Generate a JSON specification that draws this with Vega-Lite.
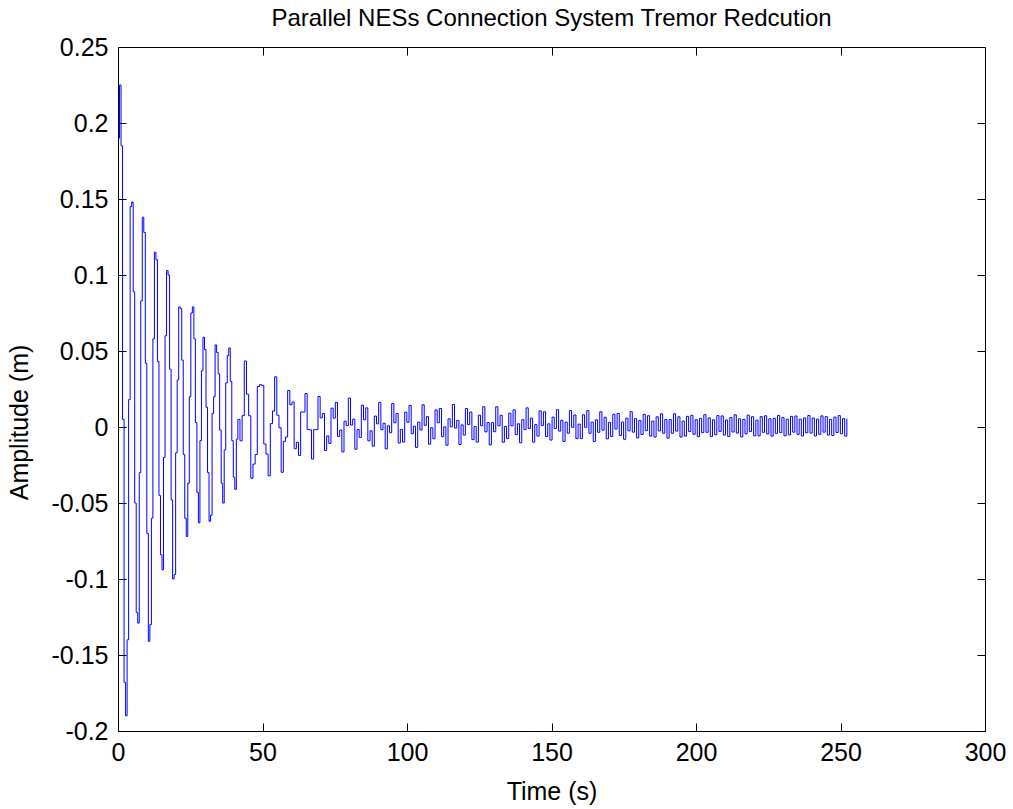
{
"$schema": "https://vega.github.io/schema/vega-lite/v6.json",
"width": 867, "height": 684,
"autosize": {"type": "none"},
"padding": {"left": 118, "top": 47, "right": 28, "bottom": 78},
"background": "white",
"title": {"text": "Parallel NESs Connection System Tremor Redcution", "font": "Liberation Sans", "fontSize": 24, "fontWeight": "normal", "color": "black", "offset": 4, "anchor": "middle"},
"data": {"values": [
{"t":0,"v":0.19},{"t":0.525,"v":0.225},{"t":1.05,"v":0.185},{"t":1.575,"v":0.005},{"t":2.1,"v":-0.168},{"t":2.625,"v":-0.19},{"t":3.15,"v":-0.14},{"t":3.675,"v":0.018},
{"t":4.2,"v":0.145},{"t":4.725,"v":0.148},{"t":5.25,"v":0.089},{"t":5.775,"v":-0.05},{"t":6.3,"v":-0.122},{"t":6.825,"v":-0.129},{"t":7.35,"v":-0.03},{"t":7.875,"v":0.083},
{"t":8.4,"v":0.138},{"t":8.925,"v":0.128},{"t":9.45,"v":0.042},{"t":9.975,"v":-0.07},{"t":10.5,"v":-0.141},{"t":11.025,"v":-0.13},{"t":11.55,"v":-0.06},{"t":12.075,"v":0.058},
{"t":12.6,"v":0.115},{"t":13.125,"v":0.11},{"t":13.65,"v":0.043},{"t":14.175,"v":-0.045},{"t":14.7,"v":-0.084},{"t":15.225,"v":-0.094},{"t":15.75,"v":-0.02},{"t":16.275,"v":0.06},
{"t":16.8,"v":0.103},{"t":17.325,"v":0.1},{"t":17.85,"v":0.038},{"t":18.375,"v":-0.048},{"t":18.9,"v":-0.1},{"t":19.425,"v":-0.097},{"t":19.95,"v":-0.017},{"t":20.475,"v":0.031},
{"t":21,"v":0.079},{"t":21.525,"v":0.078},{"t":22.05,"v":0.044},{"t":22.575,"v":-0.018},{"t":23.1,"v":-0.06},{"t":23.625,"v":-0.072},{"t":24.15,"v":-0.037},{"t":24.675,"v":0.02},
{"t":25.2,"v":0.075},{"t":25.725,"v":0.079},{"t":26.25,"v":0.058},{"t":26.775,"v":0.003},{"t":27.3,"v":-0.043},{"t":27.825,"v":-0.063},{"t":28.35,"v":-0.009},{"t":28.875,"v":0.037},
{"t":29.4,"v":0.059},{"t":29.925,"v":0.051},{"t":30.45,"v":0.013},{"t":30.975,"v":-0.03},{"t":31.5,"v":-0.062},{"t":32.025,"v":-0.058},{"t":32.55,"v":0.009},{"t":33.075,"v":0.02},
{"t":33.6,"v":0.054},{"t":34.125,"v":0.049},{"t":34.65,"v":0.035},{"t":35.175,"v":-0.002},{"t":35.7,"v":-0.037},{"t":36.225,"v":-0.05},{"t":36.75,"v":-0.015},{"t":37.275,"v":0.029},
{"t":37.8,"v":0.047},{"t":38.325,"v":0.052},{"t":38.85,"v":0.03},{"t":39.375,"v":-0.009},{"t":39.9,"v":-0.033},{"t":40.425,"v":-0.041},{"t":40.95,"v":-0.008},{"t":41.475,"v":0.005},
{"t":42.2,"v":-0.0091},{"t":42.95,"v":0.0075},{"t":43.7,"v":0.0434},{"t":44.45,"v":0.0216},{"t":45.2,"v":0.0074},{"t":45.95,"v":-0.0337},{"t":46.7,"v":-0.0244},{"t":47.45,"v":-0.0181},
{"t":48.2,"v":0.0266},{"t":48.95,"v":0.0278},{"t":49.7,"v":0.0274},{"t":50.45,"v":-0.0112},{"t":51.2,"v":-0.0178},{"t":51.95,"v":-0.0321},{"t":52.7,"v":0.0022},{"t":53.45,"v":0.0105},
{"t":54.2,"v":0.033},{"t":54.95,"v":0.0078},{"t":55.7,"v":-0.0005},{"t":56.45,"v":-0.0298},{"t":57.2,"v":-0.0094},{"t":57.95,"v":-0.0066},{"t":58.7,"v":0.024},{"t":59.45,"v":0.0146},
{"t":60.2,"v":0.0164},{"t":60.95,"v":-0.0143},{"t":61.7,"v":-0.0101},{"t":62.45,"v":-0.0187},{"t":63.2,"v":0.0099},{"t":63.95,"v":0.0098},{"t":64.7,"v":0.022},{"t":65.45,"v":-0.0016},
{"t":66.2,"v":-0.0019},{"t":66.95,"v":-0.0211},{"t":67.7,"v":-0.0017},{"t":68.45,"v":-0.0017},{"t":69.2,"v":0.0201},{"t":69.95,"v":0.006},{"t":70.7,"v":0.0089},{"t":71.45,"v":-0.0154},
{"t":72.2,"v":-0.0059},{"t":72.95,"v":-0.0108},{"t":73.7,"v":0.0124},{"t":74.45,"v":0.0058},{"t":75.2,"v":0.0162},{"t":75.95,"v":-0.0062},{"t":76.7,"v":-0.002},{"t":77.45,"v":-0.0164},
{"t":78.2,"v":0.0038},{"t":78.95,"v":0.0009},{"t":79.7,"v":0.019},{"t":80.45,"v":0.0013},{"t":81.2,"v":0.0051},{"t":81.95,"v":-0.0146},{"t":82.7,"v":-0.0017},{"t":83.45,"v":-0.0069},
{"t":84.2,"v":0.0143},{"t":84.95,"v":0.0048},{"t":85.7,"v":0.0126},{"t":86.45,"v":-0.0091},{"t":87.2,"v":-0.0025},{"t":87.95,"v":-0.0126},{"t":88.7,"v":0.0072},{"t":89.45,"v":0.0021},
{"t":90.2,"v":0.0162},{"t":90.95,"v":-0.0017},{"t":91.7,"v":0.0025},{"t":92.45,"v":-0.0144},{"t":93.2,"v":0.0008},{"t":93.95,"v":-0.0038},{"t":94.7,"v":0.0154},{"t":95.45,"v":0.0028},
{"t":96.2,"v":0.0089},{"t":96.95,"v":-0.0105},{"t":97.7,"v":-0.0016},{"t":98.45,"v":-0.0099},{"t":99.2,"v":0.0097},{"t":99.95,"v":0.0031},{"t":100.7,"v":0.0142},{"t":101.45,"v":-0.0044},
{"t":102.2,"v":0.0005},{"t":102.95,"v":-0.0134},{"t":103.7,"v":0.0032},{"t":104.45,"v":-0.002},{"t":105.2,"v":0.0146},{"t":105.95,"v":0.0011},{"t":106.7,"v":0.0068},{"t":107.45,"v":-0.0113},
{"t":108.2,"v":-0.0005},{"t":108.95,"v":-0.0077},{"t":109.7,"v":0.0112},{"t":110.45,"v":0.0028},{"t":111.2,"v":0.0122},{"t":111.95,"v":-0.0064},{"t":112.7,"v":0.0001},{"t":113.45,"v":-0.012},
{"t":114.2,"v":0.0054},{"t":114.95,"v":0.0001},{"t":115.7,"v":0.0148},{"t":116.45,"v":-0.0007},{"t":117.2,"v":0.0043},{"t":117.95,"v":-0.0115},{"t":118.7,"v":0.0014},{"t":119.45,"v":-0.0053},
{"t":120.2,"v":0.0122},{"t":120.95,"v":0.0016},{"t":121.7,"v":0.0098},{"t":122.45,"v":-0.0083},{"t":123.2,"v":0.0003},{"t":123.95,"v":-0.0099},{"t":124.7,"v":0.0078},{"t":125.45,"v":0.0008},
{"t":126.2,"v":0.0133},{"t":126.95,"v":-0.0032},{"t":127.7,"v":0.0029},{"t":128.45,"v":-0.0118},{"t":129.2,"v":0.0029},{"t":129.95,"v":-0.0031},{"t":130.7,"v":0.0133},{"t":131.45,"v":0.0008},
{"t":132.2,"v":0.0077},{"t":132.95,"v":-0.01},{"t":133.7,"v":0.0003},{"t":134.45,"v":-0.0076},{"t":135.2,"v":0.0091},{"t":135.95,"v":0.0008},{"t":136.7,"v":0.0113},{"t":137.45,"v":-0.005},
{"t":138.2,"v":0.0021},{"t":138.95,"v":-0.0104},{"t":139.7,"v":0.0048},{"t":140.45,"v":-0.0017},{"t":141.2,"v":0.0126},{"t":141.95,"v":-0.0009},{"t":142.7,"v":0.0058},{"t":143.45,"v":-0.01},
{"t":144.2,"v":0.0016},{"t":144.95,"v":-0.006},{"t":145.7,"v":0.0106},{"t":146.45,"v":0.001},{"t":147.2,"v":0.01},{"t":147.95,"v":-0.0063},{"t":148.7,"v":0.0021},{"t":149.45,"v":-0.0086},
{"t":150.2,"v":0.0065},{"t":150.95,"v":-0.001},{"t":151.7,"v":0.0114},{"t":152.45,"v":-0.0027},{"t":153.2,"v":0.0044},{"t":153.95,"v":-0.0095},{"t":154.7,"v":0.0032},{"t":155.45,"v":-0.0041},
{"t":156.2,"v":0.0108},{"t":156.95,"v":-0.0002},{"t":157.7,"v":0.0079},{"t":158.45,"v":-0.0076},{"t":159.2,"v":0.0019},{"t":159.95,"v":-0.0076},{"t":160.7,"v":0.008},{"t":161.45,"v":-0.0002},
{"t":162.2,"v":0.0108},{"t":162.95,"v":-0.0042},{"t":163.7,"v":0.0032},{"t":164.45,"v":-0.0095},{"t":165.2,"v":0.0047},{"t":165.95,"v":-0.0035},{"t":166.7,"v":0.01},{"t":167.45,"v":-0.0021},
{"t":168.2,"v":0.0064},{"t":168.95,"v":-0.0078},{"t":169.7,"v":0.003},{"t":170.45,"v":-0.0062},{"t":171.2,"v":0.0084},{"t":171.95,"v":-0.0013},{"t":172.7,"v":0.0089},{"t":173.45,"v":-0.0055},
{"t":174.2,"v":0.0033},{"t":174.95,"v":-0.0081},{"t":175.7,"v":0.0058},{"t":176.45,"v":-0.0025},{"t":177.2,"v":0.0101},{"t":177.95,"v":-0.0034},{"t":178.7,"v":0.0055},{"t":179.45,"v":-0.0072},
{"t":180.2,"v":0.0043},{"t":180.95,"v":-0.0049},{"t":181.7,"v":0.0083},{"t":182.45,"v":-0.0024},{"t":183.2,"v":0.0074},{"t":183.95,"v":-0.006},{"t":184.7,"v":0.0039},{"t":185.45,"v":-0.0066},
{"t":186.2,"v":0.0067},{"t":186.95,"v":-0.0026},{"t":187.7,"v":0.0087},{"t":188.45,"v":-0.0041},{"t":189.2,"v":0.0049},{"t":189.95,"v":-0.0073},{"t":190.7,"v":0.0049},{"t":191.45,"v":-0.0041},
{"t":192.2,"v":0.0087},{"t":192.95,"v":-0.0027},{"t":193.7,"v":0.0067},{"t":194.45,"v":-0.0066},{"t":195.2,"v":0.0039},{"t":195.95,"v":-0.006},{"t":196.7,"v":0.007},{"t":197.45,"v":-0.003},
{"t":198.2,"v":0.0077},{"t":198.95,"v":-0.0048},{"t":199.7,"v":0.0048},{"t":200.45,"v":-0.0064},{"t":201.2,"v":0.0057},{"t":201.95,"v":-0.0037},{"t":202.7,"v":0.0081},{"t":203.45,"v":-0.0035},
{"t":204.2,"v":0.006},{"t":204.95,"v":-0.0063},{"t":205.7,"v":0.0047},{"t":206.45,"v":-0.0051},{"t":207.2,"v":0.0075},{"t":207.95,"v":-0.0029},{"t":208.7,"v":0.0073},{"t":209.45,"v":-0.0053},
{"t":210.2,"v":0.0046},{"t":210.95,"v":-0.0062},{"t":211.7,"v":0.0062},{"t":212.45,"v":-0.0033},{"t":213.2,"v":0.008},{"t":213.95,"v":-0.004},{"t":214.7,"v":0.0054},{"t":215.45,"v":-0.0065},
{"t":216.2,"v":0.005},{"t":216.95,"v":-0.0045},{"t":217.7,"v":0.0078},{"t":218.45,"v":-0.003},{"t":219.2,"v":0.0068},{"t":219.95,"v":-0.0058},{"t":220.7,"v":0.0045},{"t":221.45,"v":-0.0058},
{"t":222.2,"v":0.0068},{"t":222.95,"v":-0.0035},{"t":223.7,"v":0.0074},{"t":224.45,"v":-0.0046},{"t":225.2,"v":0.0054},{"t":225.95,"v":-0.006},{"t":226.7,"v":0.0057},{"t":227.45,"v":-0.0042},
{"t":228.2,"v":0.0076},{"t":228.95,"v":-0.0037},{"t":229.7,"v":0.0063},{"t":230.45,"v":-0.0058},{"t":231.2,"v":0.0051},{"t":231.95,"v":-0.0052},{"t":232.7,"v":0.007},{"t":233.45,"v":-0.0034},
{"t":234.2,"v":0.0072},{"t":234.95,"v":-0.0049},{"t":235.7,"v":0.0051},{"t":236.45,"v":-0.0059},{"t":237.2,"v":0.006},{"t":237.95,"v":-0.0038},{"t":238.7,"v":0.0076},{"t":239.45,"v":-0.004},
{"t":240.2,"v":0.0059},{"t":240.95,"v":-0.0059},{"t":241.7,"v":0.0052},{"t":242.45,"v":-0.0048},{"t":243.2,"v":0.0073},{"t":243.95,"v":-0.0034},{"t":244.7,"v":0.0068},{"t":245.45,"v":-0.0053},
{"t":246.2,"v":0.005},{"t":246.95,"v":-0.0056},{"t":247.7,"v":0.0065},{"t":248.45,"v":-0.0036},{"t":249.2,"v":0.0075},{"t":249.95,"v":-0.0044},{"t":250.7,"v":0.0055},{"t":251.45,"v":-0.006},
{"t":252.2,"v":0.0055}
]},
"layer": [
{"mark": {"type": "line", "interpolate": "step-after", "color": "#0000ff", "strokeWidth": 1, "clip": true},
 "encoding": {
  "x": {"field": "t", "type": "quantitative", "scale": {"domain": [0, 300], "nice": false, "zero": false},
        "axis": {"orient": "bottom", "values": [0,50,100,150,200,250,300], "title": "Time (s)", "labelPadding": 17, "titlePadding": 14, "labelFlush": false, "labelOverlap": false}},
  "y": {"field": "v", "type": "quantitative", "scale": {"domain": [-0.2, 0.25], "nice": false, "zero": false},
        "axis": {"orient": "left", "values": [-0.2,-0.15,-0.1,-0.05,0,0.05,0.1,0.15,0.2,0.25], "labelExpr": "replace(format(datum.value, '.2~f'), '\u2212', '-')", "title": "Amplitude (m)", "labelPadding": 18, "titlePadding": 19, "titleY": 375, "labelFlush": false, "labelOverlap": false}}
 }},
{"mark": {"type": "line", "interpolate": "step-after", "strokeOpacity": 0},
 "encoding": {
  "x": {"field": "t", "type": "quantitative", "scale": {"domain": [0, 300], "nice": false, "zero": false},
        "axis": {"orient": "top", "values": [0,50,100,150,200,250,300], "labels": false, "title": null}},
  "y": {"field": "v", "type": "quantitative", "scale": {"domain": [-0.2, 0.25], "nice": false, "zero": false},
        "axis": {"orient": "right", "values": [-0.2,-0.15,-0.1,-0.05,0,0.05,0.1,0.15,0.2,0.25], "labels": false, "title": null}}
 }}
],
"resolve": {"axis": {"x": "independent", "y": "independent"}},
"config": {
 "view": {"stroke": "black", "strokeWidth": 1},
 "axis": {"grid": false, "domainColor": "black", "domainWidth": 1, "tickColor": "black", "tickWidth": 1, "tickSize": -8,
          "labelColor": "black", "titleColor": "black", "labelFont": "Liberation Sans", "titleFont": "Liberation Sans",
          "labelFontSize": 25, "titleFontSize": 25, "titleFontWeight": "normal"}
}
}
